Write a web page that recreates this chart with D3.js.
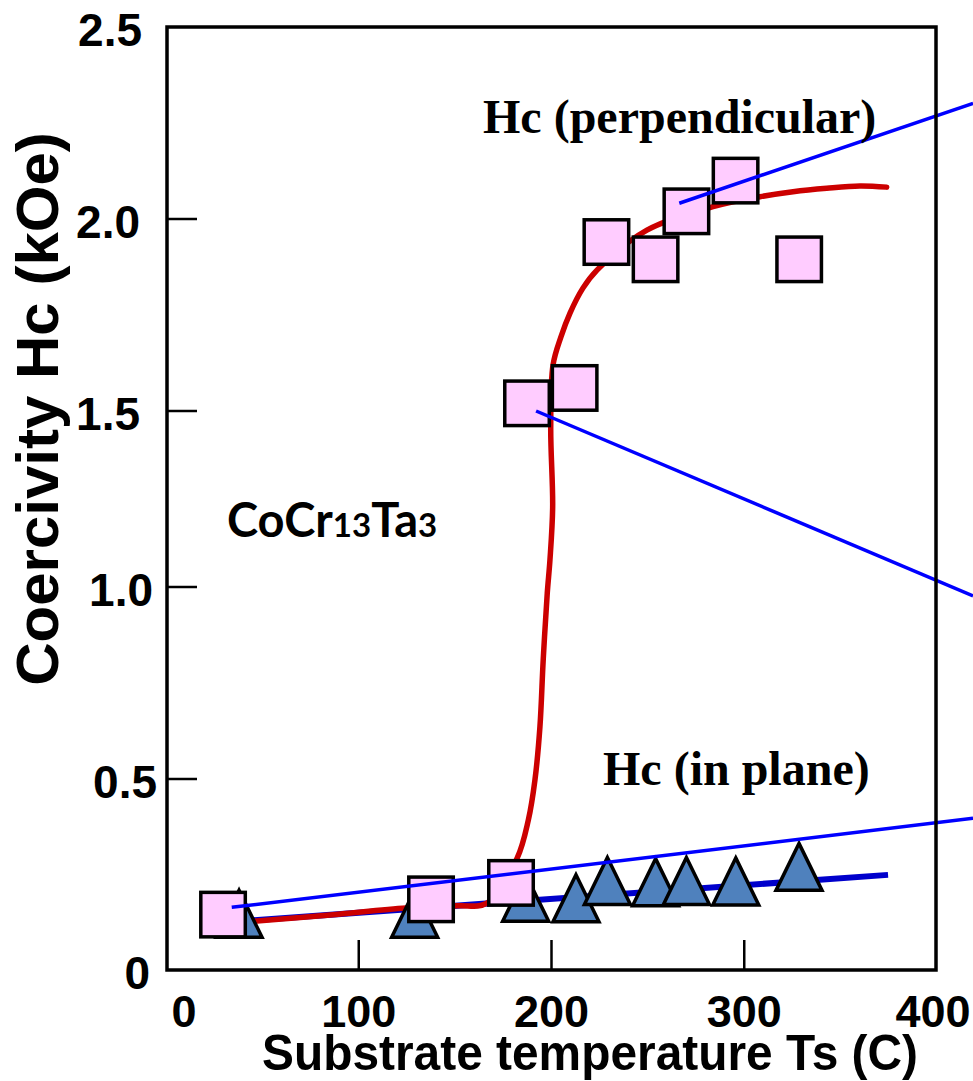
<!DOCTYPE html>
<html>
<head>
<meta charset="utf-8">
<script src="https://cdn.jsdelivr.net/npm/d3@7"></script>
<style>
  html, body { margin: 0; padding: 0; background: #fff; }
  svg { display: block; }
</style>
</head>
<body>
<svg id="chart" width="973" height="1081"></svg>
<script>
// ---------------- data ----------------
const xTicks = [0, 100, 200, 300, 400];
const yTicks = [0, 0.5, 1.0, 1.5, 2.0, 2.5];
const yTickLabels = ["0", "0.5", "1.0", "1.5", "2.0", "2.5"];

// Hc perpendicular (pink squares): substrate temperature (C), coercivity (kOe)
const perpT  = [29.6, 137.5, 179.0, 187.3, 212.0, 228.5, 254.0, 270.0, 295.5, 328.5];
const perpHc = [0.145, 0.185, 0.228, 1.52, 1.56, 1.94, 1.895, 2.02, 2.10, 1.895];

// Hc in plane (blue triangles)
const inT  = [37.9, 129.0, 186.6, 212.7, 229.0, 254.0, 270.0, 295.6, 328.4];
const inHc = [0.147, 0.147, 0.189, 0.188, 0.233, 0.230, 0.233, 0.232, 0.270];

// red trend curve (perpendicular), traced
const redT  = [43.6, 85.1, 124.5, 151.0, 166.5, 182.1, 188.0, 191.4, 194.0, 195.7, 197.8, 199.2, 200.6, 199.6, 200.8, 204.9, 209.6, 216.3, 223.6, 249.5, 283.8, 308.2, 325.3, 342.8, 360.0, 373.9];
const redHc = [0.127, 0.144, 0.162, 0.168, 0.175, 0.292, 0.393, 0.497, 0.636, 0.810, 0.984, 1.077, 1.227, 1.452, 1.620, 1.693, 1.755, 1.820, 1.867, 1.971, 2.032, 2.058, 2.071, 2.080, 2.086, 2.083];

// blue trend line (in plane)
const blueT  = [33.2, 374.6];
const blueHc = [0.126, 0.249];

// thin blue pointer lines: start and end points
const pointerStartT  = [266.3, 192.0, 34.1];
const pointerStartHc = [2.041, 1.50, 0.164];
const pointerEndT    = [418.7, 418.7, 418.7];
const pointerEndHc   = [2.301, 0.977, 0.397];

const xTitle = "Substrate temperature Ts (C)";
const yTitle = "Coercivity Hc (kOe)";
const labelPerp = "Hc (perpendicular)";
const labelIn = "Hc (in plane)";

// ---------------- drawing ----------------
const svg = d3.select("#chart");
const L = 167, R = 936, T = 27, B = 970;

const x = d3.scaleLinear().domain([0, 400]).range([166, 937]);
// the original axis has slightly uneven tick spacing
const y = d3.scaleLinear().domain(yTicks).range([970, 779, 587, 411, 219, 27]);

const lineGen = d3.line().x(d => x(d[0])).y(d => y(d[1]));

svg.append("path")
  .datum(blueT.map((t, i) => [t, blueHc[i]]))
  .attr("d", lineGen)
  .attr("fill", "none").attr("stroke", "#0000CC").attr("stroke-width", 6);

svg.append("path")
  .datum(redT.map((t, i) => [t, redHc[i]]))
  .attr("d", d3.line().x(d => x(d[0])).y(d => y(d[1])).curve(d3.curveCatmullRom.alpha(0.5)))
  .attr("fill", "none").attr("stroke", "#CC0000").attr("stroke-width", 5.5)
  .attr("stroke-linecap", "round");

// triangles
const tw = 46, th = 47;
svg.append("g").selectAll("path")
  .data(inT.map((t, i) => [t, inHc[i]]))
  .join("path")
  .attr("d", d => {
    const cx = x(d[0]), cy = y(d[1]);
    return `M${cx},${cy - th / 2}L${cx + tw / 2},${cy + th / 2}L${cx - tw / 2},${cy + th / 2}Z`;
  })
  .attr("fill", "#4F81BD").attr("stroke", "#000").attr("stroke-width", 3.5);

// squares
const sq = 44.5;
svg.append("g").selectAll("rect")
  .data(perpT.map((t, i) => [t, perpHc[i]]))
  .join("rect")
  .attr("x", d => x(d[0]) - sq / 2)
  .attr("y", d => y(d[1]) - sq / 2)
  .attr("width", sq).attr("height", sq)
  .attr("fill", "#FFCCFF").attr("stroke", "#000").attr("stroke-width", 3.5);

// pointer lines on top
svg.append("g").selectAll("line")
  .data(pointerStartT.map((t, i) => i))
  .join("line")
  .attr("x1", i => x(pointerStartT[i])).attr("y1", i => y(pointerStartHc[i]))
  .attr("x2", i => x(pointerEndT[i])).attr("y2", i => y(pointerEndHc[i]))
  .attr("stroke", "#0000FF").attr("stroke-width", 3.5);

// frame
svg.append("rect")
  .attr("x", L).attr("y", T).attr("width", R - L).attr("height", B - T)
  .attr("fill", "none").attr("stroke", "#000").attr("stroke-width", 3.5);

// ticks (inward)
svg.append("g").selectAll("line")
  .data(xTicks.filter(v => v > 0 && v < 400))
  .join("line")
  .attr("x1", d => x(d)).attr("x2", d => x(d))
  .attr("y1", B).attr("y2", B - 30)
  .attr("stroke", "#000").attr("stroke-width", 2.5);

svg.append("g").selectAll("line")
  .data(yTicks.filter(v => v > 0 && v < 2.5))
  .join("line")
  .attr("x1", L).attr("x2", L + 30)
  .attr("y1", d => y(d)).attr("y2", d => y(d))
  .attr("stroke", "#000").attr("stroke-width", 2.5);

// tick labels
const sans = "'Liberation Sans', Arial, sans-serif";
const xLabelShift = {0: 18, 400: -4};
svg.append("g").selectAll("text")
  .data(xTicks)
  .join("text")
  .attr("x", d => x(d) + (xLabelShift[d] || 0))
  .attr("y", 1027)
  .attr("text-anchor", "middle")
  .attr("font-family", sans).attr("font-weight", "bold").attr("font-size", 45)
  .text(d => d);

const yLabelRight = {0: 150, 0.5: 157, 1.0: 153, 1.5: 140, 2.0: 140, 2.5: 142};
svg.append("g").selectAll("text")
  .data(yTicks)
  .join("text")
  .attr("x", d => yLabelRight[d])
  .attr("y", d => y(d) + 19)
  .attr("text-anchor", "end")
  .attr("font-family", sans).attr("font-weight", "bold").attr("font-size", 46)
  .text((d, i) => yTickLabels[i]);

// axis titles
svg.append("text")
  .attr("x", 590).attr("y", 1070)
  .attr("text-anchor", "middle")
  .attr("font-family", sans).attr("font-weight", "bold").attr("font-size", 50)
  .attr("textLength", 656).attr("lengthAdjust", "spacingAndGlyphs")
  .text(xTitle);

svg.append("text")
  .attr("transform", "translate(58,409) rotate(-90)")
  .attr("text-anchor", "middle")
  .attr("font-family", sans).attr("font-weight", "bold").attr("font-size", 60)
  .text(yTitle);

// annotations
const serif = "'Liberation Serif', 'Times New Roman', serif";
svg.append("text")
  .attr("x", 483).attr("y", 133)
  .attr("font-family", serif).attr("font-weight", "bold").attr("font-size", 48)
  .text(labelPerp);

svg.append("text")
  .attr("x", 603).attr("y", 785)
  .attr("font-family", serif).attr("font-weight", "bold").attr("font-size", 48)
  .text(labelIn);

const comp = svg.append("text")
  .attr("x", 227).attr("y", 537)
  .attr("font-family", "Lato, 'Open Sans', sans-serif").attr("font-weight", "bold").attr("font-size", 47);
comp.append("tspan").text("CoCr");
comp.append("tspan").attr("font-size", 33).text("13");
comp.append("tspan").text("Ta");
comp.append("tspan").attr("font-size", 33).text("3");
</script>
</body>
</html>
